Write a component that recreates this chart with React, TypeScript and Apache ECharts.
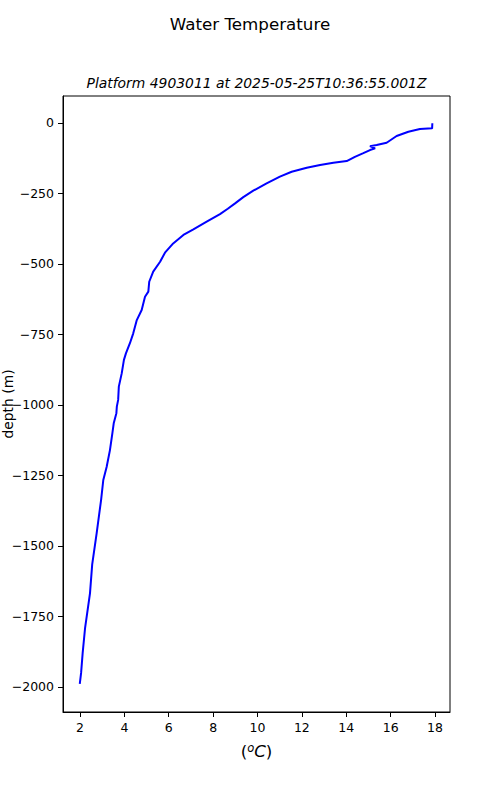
import React, { useEffect, useRef } from "react";
import * as echarts from "echarts";

const temperature: number[] = [
  17.88, 17.87, 17.32, 16.8, 16.27, 16.12, 15.82, 15.37, 15.07, 15.3, 15.07, 14.77,
  14.39, 14.02, 13.42, 12.82, 12.22, 11.54, 11.01, 10.41, 9.81, 9.36, 8.99, 8.66,
  8.31, 7.71, 7.11, 6.66, 6.2, 5.83, 5.61, 5.3, 5.12, 5.08, 4.93, 4.78, 4.56, 4.4,
  4.25, 4.07, 3.98, 3.88, 3.75, 3.72, 3.66, 3.64, 3.52, 3.46, 3.35, 3.2, 3.05, 2.95,
  2.75, 2.55, 2.45, 2.23, 2.12, 2.05, 1.99,
];
const depth: number[] = [
  -1, -19, -21, -31, -46, -54, -70, -78, -82, -90, -96, -107,
  -120, -135, -141, -149, -159, -173, -190, -214, -240, -263, -285, -304,
  -323, -350, -377, -397, -427, -460, -492, -527, -563, -598, -616, -663, -699, -746,
  -781, -817, -840, -888, -935, -982, -1006, -1029, -1065, -1100, -1160, -1220, -1266, -1337,
  -1455, -1565, -1668, -1790, -1880, -1950, -1989,
];
const xTicks: number[] = [2, 4, 6, 8, 10, 12, 14, 16, 18];
const yTicks: number[] = [0, -250, -500, -750, -1000, -1250, -1500, -1750, -2000];

const titleText = "Water Temperature";
const subtitleText = "Platform 4903011 at 2025-05-25T10:36:55.001Z";
const yName = "depth (m)";

export default function App() {
  const ref = useRef<HTMLDivElement>(null);
  useEffect(() => {
    if (!ref.current) return;
    const chart = echarts.init(ref.current, undefined, { renderer: "svg" });
    const font = "DejaVu Sans";
    const data = temperature.map((t, i) => [t, depth[i]]);
    chart.setOption({
      animation: false,
      textStyle: { fontFamily: font },
      grid: {
        left: 63,
        right: 50,
        top: 96,
        bottom: 88,
        containLabel: false,
        outerBoundsMode: "none",
        show: true,
        borderColor: "#000",
        borderWidth: 1,
        backgroundColor: "transparent",
      },
      graphic: [
        {
          type: "text",
          x: 250,
          y: 24,
          style: {
            text: titleText,
            fontFamily: font,
            fontSize: 16.7,
            fill: "#000",
            textAlign: "center",
            textVerticalAlign: "middle",
          },
        },
        {
          type: "text",
          x: 256.5,
          y: 83,
          style: {
            text: subtitleText,
            fontFamily: font,
            fontSize: 13.9,
            fontStyle: "italic",
            fill: "#000",
            textAlign: "center",
            textVerticalAlign: "middle",
          },
        },
        {
          type: "text",
          x: 8,
          y: 404,
          rotation: Math.PI / 2,
          style: {
            text: yName,
            fontFamily: font,
            fontSize: 13.9,
            fill: "#000",
            textAlign: "center",
            textVerticalAlign: "middle",
          },
        },
      ],
      xAxis: {
        type: "value",
        min: 1.234,
        max: 18.676,
        splitLine: { show: false },
        axisLine: { show: true, onZero: false, lineStyle: { color: "#000", width: 1 } },
        axisTick: {
          show: true,
          length: 5,
          lineStyle: { color: "#000" },
          customValues: xTicks,
        },
        axisLabel: {
          color: "#000",
          fontSize: 12.5,
          fontFamily: font,
          margin: 9,
          customValues: xTicks,
          formatter: (v: number) => String(v),
        },
        name: "{p|(}{s|o}{i|C}{p|)}",
        nameLocation: "middle",
        nameGap: 30,
        nameTextStyle: {
          rich: {
            p: { fontSize: 16.7, fontFamily: font, color: "#000", verticalAlign: "bottom" },
            i: { fontSize: 16.7, fontFamily: font, fontStyle: "italic", color: "#000", verticalAlign: "bottom" },
            s: { fontSize: 11.5, fontFamily: font, fontStyle: "italic", color: "#000", verticalAlign: "top" },
          },
        },
      },
      yAxis: {
        type: "value",
        min: -2088.7,
        max: 95.7,
        splitLine: { show: false },
        axisLine: { show: true, onZero: false, lineStyle: { color: "#000", width: 1 } },
        axisTick: {
          show: true,
          length: 5,
          lineStyle: { color: "#000" },
          customValues: yTicks,
        },
        axisLabel: {
          color: "#000",
          fontSize: 12.5,
          fontFamily: font,
          margin: 9,
          customValues: yTicks,
          formatter: (v: number) => String(v).replace("-", "\u2212"),
        },
      },
      series: [
        {
          type: "line",
          data,
          showSymbol: false,
          symbol: "none",
          lineStyle: { color: "#0000ff", width: 2 },
          itemStyle: { color: "#0000ff" },
        },
      ],
    });
    return () => chart.dispose();
  }, []);
  return (
    <div
      ref={ref}
      style={{ position: "absolute", left: 0, top: 0, width: 500, height: 800 }}
    />
  );
}
